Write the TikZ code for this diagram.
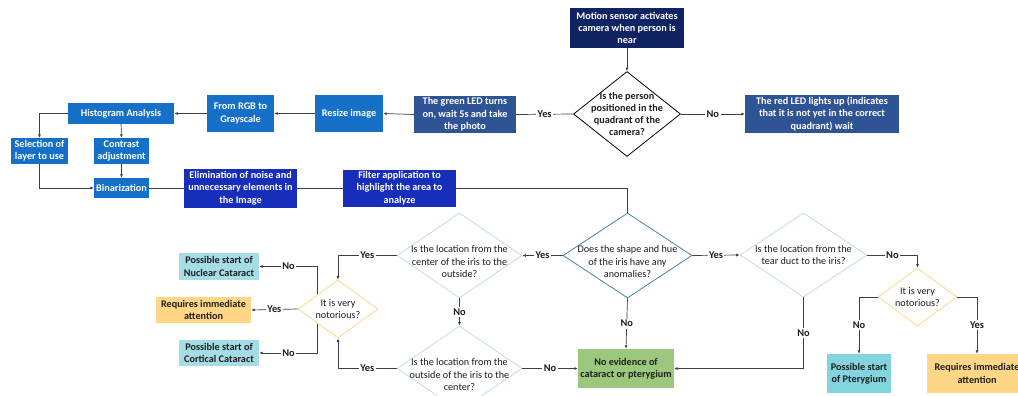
\documentclass[tikz,border=0pt]{standalone}
\usepackage{fontspec}
\setmainfont{Carlito}
\usetikzlibrary{shapes.geometric,arrows.meta}
\definecolor{navy}{RGB}{16,36,100}
\definecolor{medblue}{RGB}{47,84,150}
\definecolor{brblue}{RGB}{22,112,200}
\definecolor{royal}{RGB}{22,46,185}
\definecolor{tealb}{RGB}{65,135,165}
\definecolor{paleb}{RGB}{190,222,235}
\definecolor{goldb}{RGB}{248,218,140}
\definecolor{cyanf}{RGB}{165,220,230}
\definecolor{cyanf2}{RGB}{130,212,222}
\definecolor{orangef}{RGB}{255,215,135}
\definecolor{greenf}{RGB}{155,200,125}
\definecolor{linec}{RGB}{60,62,72}
\definecolor{txt}{RGB}{30,30,30}
\begin{document}
\begin{tikzpicture}[x=1pt,y=-1pt,
  base/.style={inner sep=0pt, align=center, font=\fontsize{10.2}{12.3}\selectfont\bfseries},
  bx/.style={base, text=white},
  cbox/.style={base, text=txt},
  dia/.style={diamond, inner sep=0pt, line width=0.8pt, fill=white},
  dtext/.style={align=center, inner sep=0pt, font=\fontsize{10.2}{12.3}\selectfont, text=txt},
  ln/.style={line width=0.7pt, draw=linec},
  ar/.style={ln, -{Latex[length=3.5pt,width=3pt]}},
  lab/.style={fill=white, inner sep=1.5pt, font=\fontsize{10.4}{11}\selectfont\bfseries, text=txt}]
\useasboundingbox (0,0) rectangle (1018,396);
\fill[white] (0,0) rectangle (1018,396);
\clip (0,0) rectangle (1018,396);

% top row
\node[bx, fill=navy, minimum width=114, minimum height=40] (motion) at (627,28) {Motion sensor activates\\camera when person is\\near};
\node[dia, draw=black, minimum width=107, minimum height=85,
  label={[dtext, font=\fontsize{10.2}{12}\selectfont\bfseries]center:{Is the person\\positioned in the\\quadrant of the\\camera?}}] (d1) at (627,114) {};
\node[bx, fill=medblue, minimum width=102, minimum height=37] (green) at (465,114.5) {The green LED turns\\on, wait 5s and take\\the photo};
\node[bx, fill=medblue, minimum width=154, minimum height=38] (red) at (822,114) {The red LED lights up (indicates\\that it is not yet in the correct\\quadrant) wait};
\node[bx, fill=brblue, minimum width=68, minimum height=37] (resize) at (349,113.5) {Resize image};
\node[bx, fill=brblue, minimum width=67, minimum height=37] (rgb) at (240.5,113.5) {From RGB to\\Grayscale};
\node[bx, fill=brblue, minimum width=106, minimum height=20] (hist) at (121,113.5) {Histogram Analysis};
\node[bx, fill=brblue, minimum width=57, minimum height=26] (sel) at (39.5,151) {Selection of\\layer to use};
\node[bx, fill=brblue, minimum width=55, minimum height=26] (contrast) at (121.5,151) {Contrast\\adjustment};
\node[bx, fill=brblue, minimum width=55, minimum height=20] (bin) at (121.5,188) {Binarization};
\node[bx, fill=royal, minimum width=113, minimum height=39] (elim) at (240.5,188) {Elimination of noise and\\unnecessary elements in\\the Image};
\node[bx, fill=royal, minimum width=113, minimum height=37] (filter) at (399.5,188) {Filter application to\\highlight the area to\\analyze};

% decision area
\node[dia, draw=tealb, minimum width=129, minimum height=85,
  label={[dtext, yshift=-6pt]center:{Does the shape and hue\\of the iris have any\\anomalies?}}] (dA) at (627.5,255.5) {};
\node[dia, draw=paleb, minimum width=125, minimum height=85,
  label={[dtext, yshift=-6pt]center:{Is the location from the\\center of the iris to the\\outside?}}] (dB) at (459.5,255.5) {};
\node[dia, draw=paleb, minimum width=125, minimum height=85,
  label={[dtext, yshift=-6pt]center:{Is the location from the\\outside of the iris to the\\center?}}] (dC) at (459.5,368.5) {};
\node[dia, draw=paleb, minimum width=127, minimum height=84,
  label={[dtext]center:{Is the location from the\\tear duct to the iris?}}] (dD) at (803.5,255) {};
\node[dia, draw=goldb, minimum width=80, minimum height=58,
  label={[dtext]center:{It is very\\notorious?}}] (nL) at (338,309) {};
\node[dia, draw=goldb, minimum width=79, minimum height=58,
  label={[dtext]center:{It is very\\notorious?}}] (nR) at (917.5,297) {};

\node[cbox, fill=cyanf, minimum width=80, minimum height=27] (nuc) at (219,266.5) {Possible start of\\Nuclear Cataract};
\node[cbox, fill=orangef, minimum width=95, minimum height=26] (reqL) at (203.5,310) {Requires immediate\\attention};
\node[cbox, fill=cyanf, minimum width=80, minimum height=26] (cort) at (219,353) {Possible start of\\Cortical Cataract};
\node[cbox, fill=greenf, minimum width=96, minimum height=39] (noev) at (626,368.5) {No evidence of\\cataract or pterygium};
\node[cbox, fill=cyanf2, minimum width=64, minimum height=39] (pter) at (859,373.5) {Possible start\\of Pterygium};
\node[cbox, fill=orangef, minimum width=100, minimum height=39] (reqR) at (977,373.5) {Requires immediate\\attention};

% connectors top
\draw[ar] (motion.south) -- (d1.north);
\draw[ln] (d1.west) -- node[lab]{Yes} (green.east);
\draw[ar] (d1.east) -- node[lab]{No} (red.west);
\draw[ar] (green.west) -- (resize.east);
\draw[ar] (resize.west) -- (rgb.east);
\draw[ar] (rgb.west) -- (hist.east);
\draw[ar] (hist.west) -| (sel.north);
\draw[ar] (hist.south) -- (contrast.north);
\draw[ar] (contrast.south) -- (bin.north);
\draw[ar] (sel.south) |- (bin.west);
\draw[ln] (bin.east) -- (elim.west);
\draw[ln] (elim.east) -- (filter.west);
\draw[ln] (filter.east) -| (dA.north);

% connectors decisions
\draw[ar] (dA.west) -- node[lab]{Yes} (dB.east);
\draw[ar] (dA.east) -- node[lab]{Yes} (dD.west);
\draw[ar] (dA.south) -- node[lab]{No} (noev.north);
\draw[ar] (dB.south) -- node[lab]{No} (dC.north);
\draw[ar] (dC.east) -- node[lab]{No} (noev.west);
\draw[ar] (dD.south) |- node[lab, pos=0.25]{No} (noev.east);
\draw[ar] (dD.east) -| node[lab, pos=0.25]{No} (nR.north);
\draw[ar] (nR.west) -| node[lab, pos=0.75]{No} (pter.north);
\draw[ar] (nR.east) -| node[lab, pos=0.75]{Yes} (reqR.north);
\draw[ar] (dB.west) -| node[lab, pos=0.25]{Yes} (nL.north);
\draw[ar] (dC.west) -| node[lab, pos=0.25]{Yes} (nL.south);
\draw[ar] (nL.north west) |- node[lab, pos=0.75]{No} (nuc.east);
\draw[ar] (nL.west) -- node[lab]{Yes} (reqL.east);
\draw[ar] (nL.south west) |- node[lab, pos=0.75]{No} (cort.east);
\end{tikzpicture}
\end{document}
